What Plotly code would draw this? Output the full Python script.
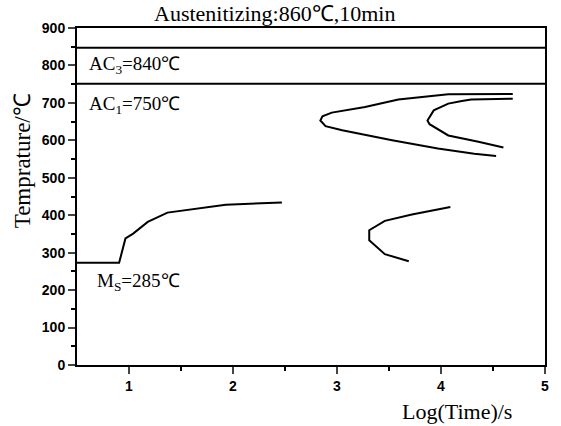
import plotly.graph_objects as go

# ---- data (log time, temperature) ----
ms_x = [0.5, 0.905, 0.966, 1.04, 1.18, 1.37, 1.93, 2.47]
ms_t = [273, 273, 338, 351, 382, 407, 428, 434]

bain_x = [4.09, 3.72, 3.46, 3.31, 3.31, 3.46, 3.69]
bain_t = [422, 402, 385, 360, 333, 296, 277]

outer_x = [4.69, 4.07, 3.59, 3.27, 2.95, 2.86, 2.84, 2.89, 3.05, 3.53, 3.97, 4.32, 4.53]
outer_t = [724, 723, 709, 689, 674, 664, 653, 638, 627, 600, 578, 564, 558]

inner_x = [4.69, 4.29, 4.20, 4.07, 3.93, 3.87, 3.89, 4.07, 4.36, 4.60]
inner_t = [711, 709, 705, 698, 680, 653, 643, 613, 596, 581]

ac3_t = 847
ac1_t = 751
x_range = [0.5, 5]
y_range = [0, 900]
x_ticks = [1, 2, 3, 4, 5]
y_ticks = [0, 100, 200, 300, 400, 500, 600, 700, 800, 900]

title_text = "Austenitizing:860℃,10min"
ac3_label = "AC<sub>3</sub>=840℃"
ac1_label = "AC<sub>1</sub>=750℃"
ms_label = "M<sub>S</sub>=285℃"
x_title = "Log(Time)/s"
y_title = "Temprature/℃"

fig = go.Figure()
line = dict(color="black", width=2)
for xs, ts in [(ms_x, ms_t), (bain_x, bain_t), (outer_x, outer_t), (inner_x, inner_t)]:
    fig.add_trace(go.Scatter(x=xs, y=ts, mode="lines", line=line, showlegend=False, hoverinfo="skip"))
for t in [ac3_t, ac1_t]:
    fig.add_trace(go.Scatter(x=x_range, y=[t, t], mode="lines", line=line, showlegend=False, hoverinfo="skip"))

serif = "Liberation Serif"
lab_font = dict(family=serif, size=19, color="black")
fig.add_annotation(x=0.6, y=800, xref="x", yref="y", text=ac3_label, showarrow=False,
                   xanchor="left", yanchor="middle", font=lab_font)
fig.add_annotation(x=0.6, y=695, xref="x", yref="y", text=ac1_label, showarrow=False,
                   xanchor="left", yanchor="middle", font=lab_font)
fig.add_annotation(x=0.67, y=222, xref="x", yref="y", text=ms_label, showarrow=False,
                   xanchor="left", yanchor="middle", font=lab_font)
fig.add_annotation(x=0.423, y=1.0, xref="paper", yref="paper", yshift=15, text=title_text,
                   showarrow=False, xanchor="center", yanchor="middle",
                   font=dict(family=serif, size=22, color="black"))
fig.add_annotation(x=4.15, y=0, xref="x", yref="paper", yshift=-46, text=x_title,
                   showarrow=False, xanchor="center", yanchor="middle",
                   font=dict(family=serif, size=22, color="black"))
fig.add_annotation(x=0, y=544, xref="paper", yref="y", xshift=-55, text=y_title,
                   showarrow=False, textangle=-90, xanchor="center", yanchor="middle",
                   font=dict(family=serif, size=23, color="black"))

tick_font = dict(family="Liberation Sans", size=14, color="black", weight="bold")
fig.update_xaxes(range=x_range, tickvals=x_ticks, ticks="outside", ticklen=7, tickwidth=1.5,
                 showline=True, linecolor="black", linewidth=2, mirror=True, showgrid=False,
                 zeroline=False, tickfont=tick_font,
                 minor=dict(tickvals=[1.5, 2.5, 3.5, 4.5], ticks="outside", ticklen=4, tickcolor="black"))
fig.update_yaxes(range=y_range, tickvals=y_ticks, ticks="outside", ticklen=7, tickwidth=1.5,
                 showline=True, linecolor="black", linewidth=2, mirror=True, showgrid=False,
                 zeroline=False, tickfont=tick_font,
                 minor=dict(tickvals=[50, 150, 250, 350, 450, 550, 650, 750, 850], ticks="outside",
                            ticklen=4, tickcolor="black"))
fig.update_layout(width=561, height=426, margin=dict(l=77, r=13, t=28, b=61),
                  plot_bgcolor="white", paper_bgcolor="white")
fig.write_html("out.html", config={"displayModeBar": False},
               post_script="document.body.style.margin='0';")
